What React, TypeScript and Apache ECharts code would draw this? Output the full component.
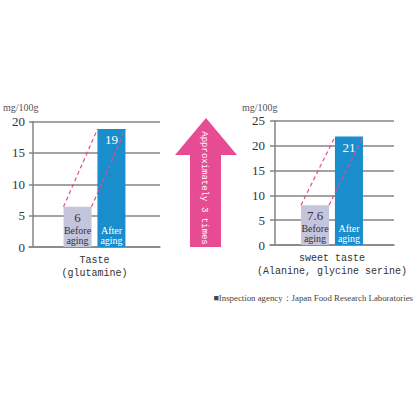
import React, { useEffect, useRef } from "react";
import * as echarts from "echarts";

const unitLabel = "mg/100g";
const leftCategory = ["Taste\n(glutamine)"];
const rightCategory = ["sweet taste\n(Alanine, glycine serine)"];
const leftBefore = [6.4];
const leftAfter = [18.8];
const leftValueLabels = ["6", "19"];
const rightBefore = [8.0];
const rightAfter = [21.8];
const rightValueLabels = ["7.6", "21"];
const barNames = ["Before\naging", "After\naging"];
const leftYMax = 20;
const rightYMax = 25;
const yInterval = 5;
const arrowText = "Approximately 3 times";
const footnote = "■Inspection agency：Japan Food Research Laboratories";

const SERIF = "'Liberation Serif', 'Times New Roman', serif";
const MONO = "'Liberation Mono', 'DejaVu Sans Mono', monospace";
const GRID_COLOR = "#858585";
const BEFORE_COLOR = "#c4c4dc";
const AFTER_COLOR = "#1a8dcd";
const PINK = "#e64b93";
const BAR_W = 28;
const HALF_GAP = 3;

function makeAxes(i: number, cats: string[], max: number, offset: number, margin: number) {
  const x = {
    type: "category",
    gridIndex: i,
    data: cats,
    axisLine: { show: true, lineStyle: { color: GRID_COLOR, width: 1.5 } },
    axisTick: { show: false },
    axisLabel: { margin: 7, fontSize: 10, lineHeight: 13, color: "#333", fontFamily: MONO },
  };
  const y = {
    type: "value",
    gridIndex: i,
    min: 0,
    max,
    interval: yInterval,
    offset,
    axisLine: { show: true, lineStyle: { color: GRID_COLOR, width: 1.5 } },
    axisTick: { show: false },
    splitLine: { show: true, lineStyle: { color: GRID_COLOR, width: 1.5 } },
    axisLabel: { margin, fontSize: 13, color: "#333", fontFamily: SERIF },
  };
  return { x, y };
}

function makeSeries(i: number, before: number[], after: number[], labels: string[]) {
  return [
    {
      type: "bar",
      xAxisIndex: i,
      yAxisIndex: i,
      data: before,
      barWidth: BAR_W,
      barGap: "21%",
      itemStyle: { color: BEFORE_COLOR },
      label: {
        show: true,
        position: "insideTop",
        distance: 4,
        formatter: () => labels[0],
        fontSize: 13,
        color: "#333",
        fontFamily: SERIF,
      },
    },
    {
      type: "bar",
      xAxisIndex: i,
      yAxisIndex: i,
      data: after,
      barWidth: BAR_W,
      barGap: "21%",
      itemStyle: { color: AFTER_COLOR },
      label: {
        show: true,
        position: "insideTop",
        distance: 4,
        formatter: () => labels[1],
        fontSize: 13,
        color: "#fff",
        fontFamily: SERIF,
      },
    },
    {
      type: "custom",
      xAxisIndex: i,
      yAxisIndex: i,
      z: 5,
      encode: { x: 0, y: 1 },
      data: [[0, before[0], after[0]]],
      renderItem: (params: any, api: any) => {
        const base = api.coord([0, 0]);
        const cx = base[0];
        const y0 = base[1];
        const yb = api.coord([0, api.value(1)])[1];
        const ya = api.coord([0, api.value(2)])[1];
        const lineStyle = { stroke: PINK, lineWidth: 1.2, lineDash: [4, 3] };
        return {
          type: "group",
          children: [
            {
              type: "line",
              shape: { x1: cx - HALF_GAP - BAR_W, y1: yb, x2: cx + HALF_GAP, y2: ya },
              style: lineStyle,
            },
            {
              type: "line",
              shape: { x1: cx - HALF_GAP, y1: yb, x2: cx + HALF_GAP + BAR_W, y2: ya },
              style: lineStyle,
            },
            {
              type: "text",
              x: cx - HALF_GAP - BAR_W / 2,
              y: y0 - 2,
              style: {
                text: barNames[0],
                align: "center",
                verticalAlign: "bottom",
                fontSize: 10,
                lineHeight: 9.5,
                fill: "#333",
                fontFamily: SERIF,
              },
            },
            {
              type: "text",
              x: cx + HALF_GAP + BAR_W / 2,
              y: y0 - 2,
              style: {
                text: barNames[1],
                align: "center",
                verticalAlign: "bottom",
                fontSize: 10,
                lineHeight: 9.5,
                fill: "#fff",
                fontFamily: SERIF,
              },
            },
          ],
        };
      },
    },
  ];
}

export default function App() {
  const ref = useRef<HTMLDivElement>(null);
  useEffect(() => {
    if (!ref.current) return;
    const chart = echarts.init(ref.current, null, { renderer: "svg" });
    const a0 = makeAxes(0, leftCategory, leftYMax, -4, 8);
    const a1 = makeAxes(1, rightCategory, rightYMax, -5, 10);
    chart.setOption({
      animation: false,
      backgroundColor: "#fff",
      grid: [
        { left: 29, width: 131, top: 121.5, height: 125.5 },
        { left: 270, width: 124, top: 120.7, height: 124.3 },
      ],
      xAxis: [a0.x, a1.x],
      yAxis: [a0.y, a1.y],
      series: [
        ...makeSeries(0, leftBefore, leftAfter, leftValueLabels),
        ...makeSeries(1, rightBefore, rightAfter, rightValueLabels),
      ],
      graphic: [
        {
          type: "text",
          left: 3,
          top: 102,
          style: { text: unitLabel, fontSize: 10, fill: "#555", fontFamily: SERIF },
        },
        {
          type: "text",
          left: 242,
          top: 102,
          style: { text: unitLabel, fontSize: 10, fill: "#555", fontFamily: SERIF },
        },
        {
          type: "polygon",
          shape: {
            points: [
              [206, 118],
              [237, 155],
              [221, 155],
              [221, 247],
              [190, 247],
              [190, 155],
              [175, 155],
            ],
          },
          style: { fill: PINK },
        },
        {
          type: "text",
          x: 204,
          y: 188,
          rotation: -Math.PI / 2,
          style: {
            text: arrowText,
            align: "center",
            verticalAlign: "middle",
            fontSize: 9,
            fill: "#fff",
            fontFamily: MONO,
          },
        },
        {
          type: "text",
          right: 2,
          top: 293,
          style: { text: footnote, fontSize: 8.8, fill: "#444", fontFamily: SERIF },
        },
      ],
    });
    return () => chart.dispose();
  }, []);
  return (
    <div
      ref={ref}
      style={{ position: "fixed", left: 0, top: 0, width: 415, height: 394 }}
    />
  );
}
